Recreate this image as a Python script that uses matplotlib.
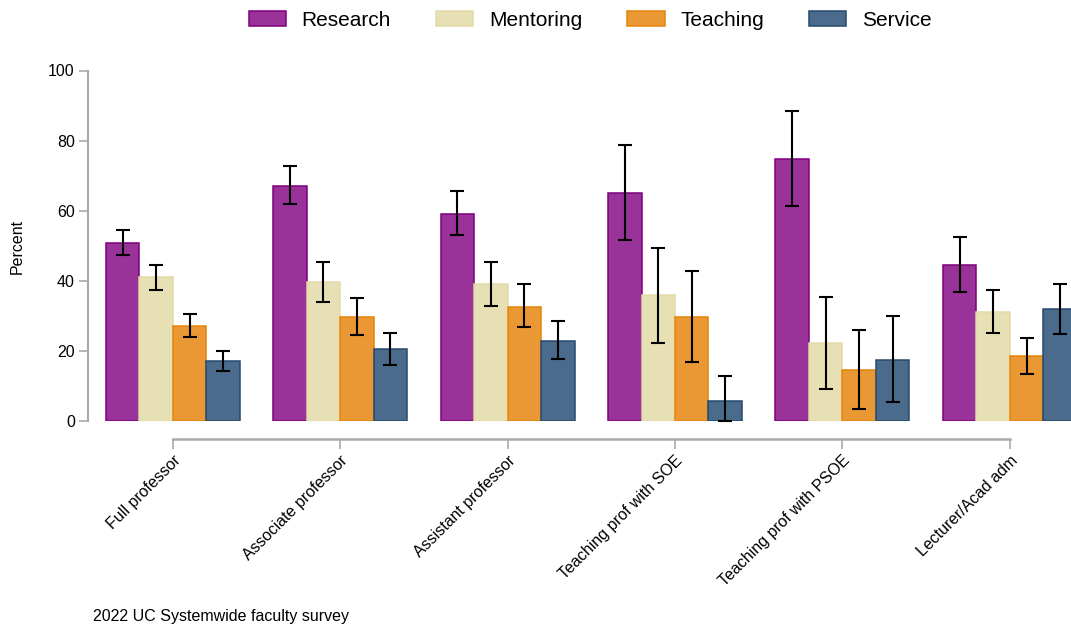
import matplotlib.pyplot as plt
import numpy as np

# Share of faculty reporting each activity, by title (2022 UC faculty survey)
titles = ['Full professor', 'Associate professor', 'Assistant professor',
          'Teaching prof with SOE', 'Teaching prof with PSOE', 'Lecturer/Acad adm']

research = [50.9, 67.1, 59.2, 65.1, 74.8, 44.6]
research_lo = [47.3, 61.8, 53.1, 51.6, 61.3, 36.9]
research_hi = [54.6, 72.7, 65.6, 78.7, 88.5, 52.5]

mentoring = [41.0, 39.7, 39.0, 35.9, 22.2, 31.0]
mentoring_lo = [37.4, 34.0, 32.8, 22.3, 9.1, 25.0]
mentoring_hi = [44.6, 45.4, 45.5, 49.3, 35.4, 37.4]

teaching = [27.0, 29.6, 32.6, 29.8, 14.6, 18.5]
teaching_lo = [23.9, 24.4, 26.8, 16.9, 3.5, 13.4]
teaching_hi = [30.5, 35.1, 39.0, 42.7, 26.1, 23.8]

service = [17.0, 20.4, 22.9, 5.8, 17.5, 31.9]
service_lo = [14.4, 15.9, 17.6, 0.0, 5.5, 24.7]
service_hi = [20.0, 25.2, 28.5, 12.7, 30.0, 39.2]

series = [
    ('Research', research, research_lo, research_hi, '#993399', '#800080'),
    ('Mentoring', mentoring, mentoring_lo, mentoring_hi, '#e8e0b5', '#e4daa8'),
    ('Teaching', teaching, teaching_lo, teaching_hi, '#ea9834', '#e6850a'),
    ('Service', service, service_lo, service_hi, '#4a6b8c', '#264a6c'),
]

plt.rcParams['font.family'] = ['Liberation Sans', 'DejaVu Sans']

W, H = 1071, 625
fig = plt.figure(figsize=(W / 100, H / 100), dpi=100)

# axes placed in pixel coordinates
ax_left, ax_right, ax_top, ax_bottom = 88, 1071, 70.5, 421
ax = fig.add_axes([ax_left / W, (H - ax_bottom) / H,
                   (ax_right - ax_left) / W, (ax_bottom - ax_top) / H])

x = np.arange(len(titles))
width = 0.2
gray = '#aaaaaa'

handles = []
for i, (name, vals, lo, hi, fc, ec) in enumerate(series):
    pos = x + (i - 1.5) * width
    b = ax.bar(pos, vals, width=width, color=fc, edgecolor=ec, linewidth=1.1,
               label=name, zorder=2)
    handles.append(b)
    err = [np.array(vals) - np.array(lo), np.array(hi) - np.array(vals)]
    ax.errorbar(pos, vals, yerr=err, fmt='none', ecolor='black',
                elinewidth=1.5, capsize=5, capthick=1.5, zorder=3, clip_on=False)

# category centre 0 sits at 172.8 px, spacing 167.4 px
ax.set_xlim((ax_left - 172.8) / 167.4, (ax_right - 172.8) / 167.4)
ax.set_ylim(0, 100)

for s in ['top', 'right']:
    ax.spines[s].set_visible(False)
ax.spines['left'].set_bounds(0, 100)
ax.spines['left'].set_color(gray)
ax.spines['left'].set_linewidth(1.5)
ax.spines['bottom'].set_position(('outward', 13))
ax.spines['bottom'].set_bounds(0, 5)
ax.spines['bottom'].set_color(gray)
ax.spines['bottom'].set_linewidth(1.8)

ax.set_yticks([0, 20, 40, 60, 80, 100])
ax.tick_params(axis='y', direction='out', length=6.5, width=1.2, color=gray,
               labelsize=11.5, pad=3)
ax.set_xticks(x)
ax.set_xticklabels(titles, rotation=45, ha='right', rotation_mode='anchor')
ax.tick_params(axis='x', direction='out', length=7, width=1.2, color=gray,
               labelsize=11.5, pad=3)

fig.text(17 / W, (H - 246) / H, 'Percent', rotation=90, ha='center', va='center',
         fontsize=11.5)

fig.legend(handles=handles, loc='center', bbox_to_anchor=(590 / W, (H - 20) / H),
           ncol=4, frameon=False, fontsize=15, handlelength=1.8, handleheight=0.75,
           handletextpad=0.75, columnspacing=2.15)

fig.text(93 / W, (H - 616) / H, '2022 UC Systemwide faculty survey', ha='left',
         va='center', fontsize=11.5)

fig.savefig('out.png', dpi=100)
